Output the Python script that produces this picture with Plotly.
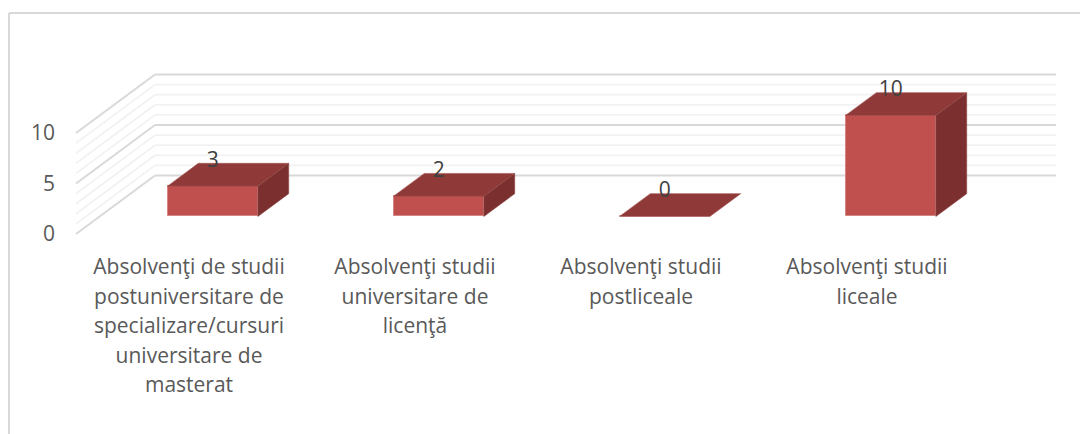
import plotly.graph_objects as go

categories = [
    ["Absolvenţi de studii", "postuniversitare de", "specializare/cursuri", "universitare de", "masterat"],
    ["Absolvenţi studii", "universitare de", "licenţă"],
    ["Absolvenţi studii", "postliceale"],
    ["Absolvenţi studii", "liceale"],
]
values = [3, 2, 0, 10]
y_ticks = [0, 5, 10]
grid_levels = list(range(0, 11))

W, H = 1080, 434
X0_PX, X4_PX = 76, 980      # front plane of the chart box
Y0_PX, Y10_PX = 234, 133
PX_PER_CAT = (X4_PX - X0_PX) / 4
PX_PER_VAL = (Y0_PX - Y10_PX) / 10

DEPTH_X = 79 / PX_PER_CAT    # full box depth in axis units
DEPTH_Y = 58.5 / PX_PER_VAL
WALL_END = 3.987
BAR_W = 0.4
D_FRONT, D_BACK = 0.30, 0.69

FRONT, TOP, SIDE = "#C0504D", "#8F3A38", "#7B2F2E"
TEXT = "#595959"
LABEL_SIZE = 21
LINE_PITCH = 29.5

fig = go.Figure()

# Front faces
fx = [i + 0.5 + D_FRONT * DEPTH_X for i in range(len(values))]
fig.add_trace(go.Bar(
    x=fx, y=values, base=[D_FRONT * DEPTH_Y] * len(values), width=BAR_W,
    marker=dict(color=FRONT, line=dict(color="#D58583", width=1)),
    hoverinfo="skip", showlegend=False,
))

# Top and side faces
ddx = (D_BACK - D_FRONT) * DEPTH_X
ddy = (D_BACK - D_FRONT) * DEPTH_Y
for cx, v in zip(fx, values):
    l, r = cx - BAR_W / 2, cx + BAR_W / 2
    b = D_FRONT * DEPTH_Y
    t = b + v
    fig.add_trace(go.Scatter(
        x=[l, r, r + ddx, l + ddx, l], y=[t, t, t + ddy, t + ddy, t],
        mode="lines", fill="toself", fillcolor=TOP,
        line=dict(color="#A35452", width=0.6), hoverinfo="skip", showlegend=False,
    ))
    if v > 0:
        fig.add_trace(go.Scatter(
            x=[r, r + ddx, r + ddx, r, r], y=[b, b + ddy, t + ddy, t, b],
            mode="lines", fill="toself", fillcolor=SIDE,
            line=dict(color="#8F4644", width=0.6), hoverinfo="skip", showlegend=False,
        ))

# Data labels
fig.add_trace(go.Scatter(
    x=fx, y=[D_FRONT * DEPTH_Y + v + 2.4 for v in values],
    text=[str(v) for v in values], mode="text", textposition="middle center",
    textfont=dict(family="Open Sans", size=LABEL_SIZE, color="#404040"),
    hoverinfo="skip", showlegend=False,
))

# Walls: gridlines run from the front-left edge, back, then along the back wall
shapes = []
for v in grid_levels:
    major = v in y_ticks
    color = "#D9D9D9" if major else "#F2F2F2"
    width = 2 if major else 1.8
    xs = [0, DEPTH_X, WALL_END + DEPTH_X]
    ys = [v, v + DEPTH_Y, v + DEPTH_Y]
    for k in range(2):
        shapes.append(dict(type="line", layer="below", xref="x", yref="y",
                           x0=xs[k], x1=xs[k + 1], y0=ys[k], y1=ys[k + 1],
                           line=dict(color=color, width=width)))

# Outer frame
for x0, y0, x1, y1 in [(9 / W, 1 - 13 / H, 1, 1 - 13 / H), (9 / W, 0, 9 / W, 1 - 13 / H)]:
    shapes.append(dict(type="line", layer="below", xref="paper", yref="paper",
                       x0=x0, y0=y0, x1=x1, y1=y1,
                       line=dict(color="#D9D9D9", width=2)))


def tick_text(lines):
    return "<br>".join(f'<span style="font-size:{LABEL_SIZE}px">{s}</span>' for s in lines)


fig.update_layout(
    width=W, height=H,
    margin=dict(l=0, r=0, t=0, b=0),
    paper_bgcolor="white", plot_bgcolor="rgba(0,0,0,0)",
    showlegend=False, shapes=shapes, bargap=0,
    xaxis=dict(
        range=[-X0_PX / PX_PER_CAT, (W - X0_PX) / PX_PER_CAT],
        tickmode="array", tickvals=[i + 0.5 for i in range(len(categories))],
        ticktext=[tick_text(c) for c in categories],
        tickangle=0,
        tickfont=dict(family="Open Sans", size=LINE_PITCH / 1.3, color=TEXT),
        showgrid=False, zeroline=False, showline=False,
        ticks="outside", ticklen=12, tickcolor="rgba(0,0,0,0)",
        anchor="free", position=(H - Y0_PX) / H,
    ),
    yaxis=dict(
        range=[-(H - Y0_PX) / PX_PER_VAL, Y0_PX / PX_PER_VAL],
        tickmode="array", tickvals=y_ticks,
        tickfont=dict(family="Open Sans", size=LABEL_SIZE, color=TEXT),
        showgrid=False, zeroline=False, showline=False,
        ticks="",
        anchor="free", position=55 / W,
    ),
)

fig.write_html(
    "out.html",
    config={"displayModeBar": False},
    post_script="document.body.style.margin='0';document.documentElement.style.overflow='hidden';",
)
